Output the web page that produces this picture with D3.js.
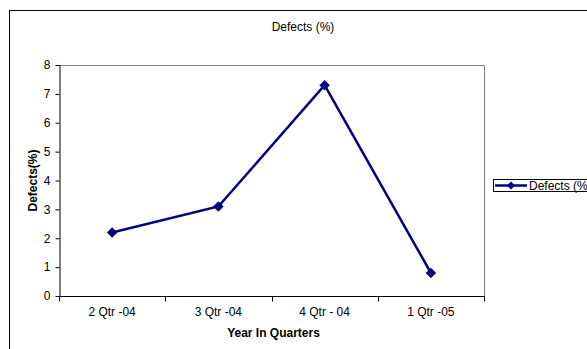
<!DOCTYPE html>
<html>
<head>
<meta charset="utf-8">
<script src="https://cdn.jsdelivr.net/npm/d3@7/dist/d3.min.js"></script>
<style>
  html, body { margin: 0; padding: 0; background: #fff; }
  svg { display: block; font-family: "Liberation Sans", Arial, sans-serif; }
</style>
</head>
<body>
<svg id="chart" width="587" height="349"></svg>
<script>
// Quarterly defect rate
const quarters = ["2 Qtr -04", "3 Qtr -04", "4 Qtr - 04", "1 Qtr -05"];
const defects = [2.2, 3.1, 7.3, 0.8];
const yTicks = [0, 1, 2, 3, 4, 5, 6, 7, 8];
const seriesName = "Defects (%)";

const svg = d3.select("#chart");
const plot = { left: 59, top: 65, right: 484, bottom: 296 };
const fs = 12;

// chart area frame (runs past the right and bottom edges)
svg.append("rect")
  .attr("x", 9.5).attr("y", 10.5)
  .attr("width", 640).attr("height", 400)
  .attr("fill", "#fff").attr("stroke", "#000").attr("stroke-width", 1);

const x = d3.scaleBand().domain(quarters).range([plot.left, plot.right]);
const y = d3.scaleLinear().domain([0, 8]).range([plot.bottom, plot.top]);

// plot area border
svg.append("path")
  .attr("d", `M${plot.left},${plot.top + 0.5}H${plot.right + 0.5}V${plot.bottom}`)
  .attr("fill", "none").attr("stroke", "#808080").attr("stroke-width", 1);

// title
svg.append("text")
  .attr("x", 303).attr("y", 31)
  .attr("text-anchor", "middle")
  .attr("font-size", fs)
  .text("Defects (%)");

// y axis
const yAxis = svg.append("g")
  .attr("transform", `translate(${plot.left + 0.5},0)`)
  .call(d3.axisLeft(y).tickValues(yTicks).tickSize(4).tickSizeOuter(0).tickPadding(5));
yAxis.select(".domain").attr("stroke", "#000");
yAxis.selectAll("line").attr("stroke", "#000");
yAxis.selectAll("text").attr("font-size", fs).attr("fill", "#000")
  .attr("font-family", "'Liberation Sans', Arial, sans-serif");

// x axis with ticks between categories
const xAxis = svg.append("g")
  .attr("transform", `translate(0,${plot.bottom + 0.5})`);
xAxis.append("line")
  .attr("x1", plot.left).attr("x2", plot.right + 1)
  .attr("stroke", "#000");
const bounds = quarters.map(q => x(q)).concat([plot.right]);
xAxis.selectAll("line.tick")
  .data(bounds).join("line")
  .attr("class", "tick")
  .attr("x1", d => Math.round(d) + 0.5).attr("x2", d => Math.round(d) + 0.5)
  .attr("y1", 0).attr("y2", 5)
  .attr("stroke", "#000");
xAxis.selectAll("text")
  .data(quarters).join("text")
  .attr("x", d => x(d) + x.bandwidth() / 2)
  .attr("y", 19)
  .attr("text-anchor", "middle")
  .attr("font-size", fs)
  .text(d => d);

// axis titles
svg.append("text")
  .attr("x", plot.left + (plot.right - plot.left) / 2 + 2)
  .attr("y", 337)
  .attr("text-anchor", "middle")
  .attr("font-size", fs).attr("font-weight", "bold")
  .text("Year In Quarters");

svg.append("text")
  .attr("transform", `translate(37,${(plot.top + plot.bottom) / 2}) rotate(-90)`)
  .attr("text-anchor", "middle")
  .attr("font-size", fs).attr("font-weight", "bold")
  .text("Defects(%)");

// series
const color = "#000080";
const cx = d => x(d) + x.bandwidth() / 2;
const line = d3.line().x((d, i) => cx(quarters[i])).y(d => y(d));
svg.append("path")
  .datum(defects)
  .attr("d", line)
  .attr("fill", "none").attr("stroke", color).attr("stroke-width", 2.5);

const diamond = d3.symbol().type(d3.symbolDiamond2).size(70);
svg.selectAll("path.marker")
  .data(defects).join("path")
  .attr("class", "marker")
  .attr("d", diamond)
  .attr("transform", (d, i) => `translate(${cx(quarters[i])},${y(d)})`)
  .attr("fill", color);

// legend
const lg = svg.append("g");
lg.append("rect")
  .attr("x", 493.5).attr("y", 179.5)
  .attr("width", 120).attr("height", 12)
  .attr("fill", "#fff").attr("stroke", "#000");
lg.append("line")
  .attr("x1", 495).attr("x2", 527).attr("y1", 185.5).attr("y2", 185.5)
  .attr("stroke", color).attr("stroke-width", 2.5);
lg.append("path")
  .attr("d", d3.symbol().type(d3.symbolDiamond2).size(40))
  .attr("transform", "translate(511,185.5)")
  .attr("fill", color);
lg.append("text")
  .attr("x", 529).attr("y", 190)
  .attr("font-size", fs)
  .text(seriesName);
</script>
</body>
</html>
